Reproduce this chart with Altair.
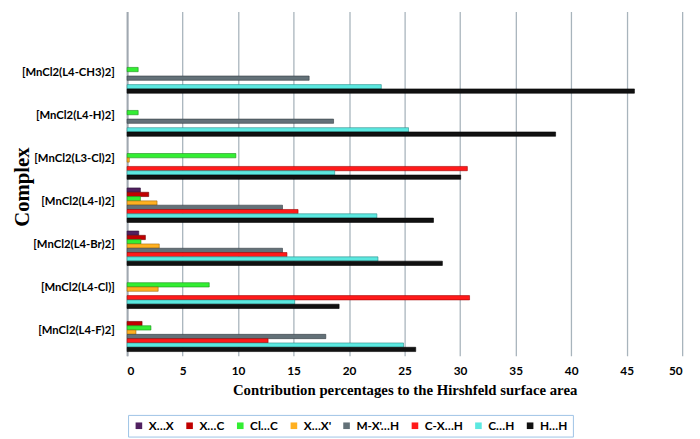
import altair as alt
import pandas as pd

complexes = ["[MnCl2(L4-CH3)2]", "[MnCl2(L4-H)2]", "[MnCl2(L3-Cl)2]", "[MnCl2(L4-I)2]",
             "[MnCl2(L4-Br)2]", "[MnCl2(L4-Cl)]", "[MnCl2(L4-F)2]"]
series = ["X…X", "X…C", "Cl…C", "X…X'", "M-X'…H", "C-X…H", "C…H", "H…H"]

XX = [0, 0, 0, 1.2, 1.05, 0, 0]
XC = [0, 0, 0, 1.95, 1.65, 0, 1.35]
ClC = [1.0, 1.0, 9.8, 1.2, 1.25, 7.4, 2.15]
XXp = [0, 0, 0.2, 2.7, 2.9, 2.8, 0.8]
MXH = [16.4, 18.6, 0, 14.0, 14.0, 0, 17.9]
CXH = [0, 0, 30.65, 15.4, 14.4, 30.85, 12.7]
CH = [22.9, 25.35, 18.7, 22.5, 22.6, 15.1, 24.9]
HH = [45.7, 38.6, 30.05, 27.6, 28.4, 19.1, 26.0]

colors = ["#502060", "#C00000", "#33EE33", "#FFB020", "#637178", "#FF1A1A", "#5CE8E0", "#111111"]
edges = ["#2A0F33", "#700000", "#1A901A", "#A06A10", "#333C40", "#A00000", "#2A8C88", "#000000"]

rows = []
for s, vals in zip(series, [XX, XC, ClC, XXp, MXH, CXH, CH, HH]):
    for c, v in zip(complexes, vals):
        rows.append({"complex": c, "series": s, "value": v})
df = pd.DataFrame(rows)

ydomain = [" "] + complexes

chart = alt.Chart(df).transform_filter("datum.value > 0").mark_bar(strokeWidth=0.6).encode(
    x=alt.X("value:Q",
            scale=alt.Scale(domain=[0, 50], nice=False),
            axis=alt.Axis(values=list(range(0, 51, 5)),
                          title="Contribution  percentages to the Hirshfeld  surface area",
                          grid=True, gridColor="#A8B4BC", gridWidth=1.3,
                          domain=False, ticks=False,
                          labelFont="Lato", labelFontWeight="bold", labelFontSize=12,
                          labelColor="#000000", labelPadding=10,
                          titleFont="Liberation Serif", titleFontSize=15,
                          titleFontWeight="bold", titleColor="#000000", titlePadding=6)),
    y=alt.Y("complex:N",
            scale=alt.Scale(domain=ydomain, paddingInner=0.2, paddingOuter=0.1),
            axis=alt.Axis(title="Complex", ticks=False, grid=False,
                          domainColor="#A0A8B0", domainWidth=2,
                          labelFont="Lato", labelFontWeight="bold", labelFontSize=11.5,
                          labelColor="#000000", labelPadding=13, labelOffset=-3,
                          titleFont="Liberation Serif", titleFontSize=21,
                          titleFontWeight="bold", titleColor="#000000",
                          titleX=-96, titleY=178)),
    yOffset=alt.YOffset("series:N", scale=alt.Scale(domain=series)),
    color=alt.Color("series:N", scale=alt.Scale(domain=series, range=colors),
                    legend=alt.Legend(title=None, orient="none", legendX=1, legendY=410,
                                      direction="horizontal", columns=8,
                                      symbolType="square", symbolSize=45,
                                      symbolStrokeWidth=0,
                                      labelFont="Lato", labelFontWeight="bold",
                                      labelFontSize=12, labelColor="#000000",
                                      columnPadding=9.5, padding=5,
                                      strokeColor="#9DC3E6")),
    stroke=alt.Stroke("series:N", scale=alt.Scale(domain=series, range=edges), legend=None),
).properties(
    width=564, height=350,
    autosize=alt.AutoSizeParams(type="none"),
    padding={"left": 121, "top": 0, "right": 10, "bottom": 82},
).configure_view(stroke=None)

chart.save("out.html", embed_options={"renderer": "svg", "actions": False})
